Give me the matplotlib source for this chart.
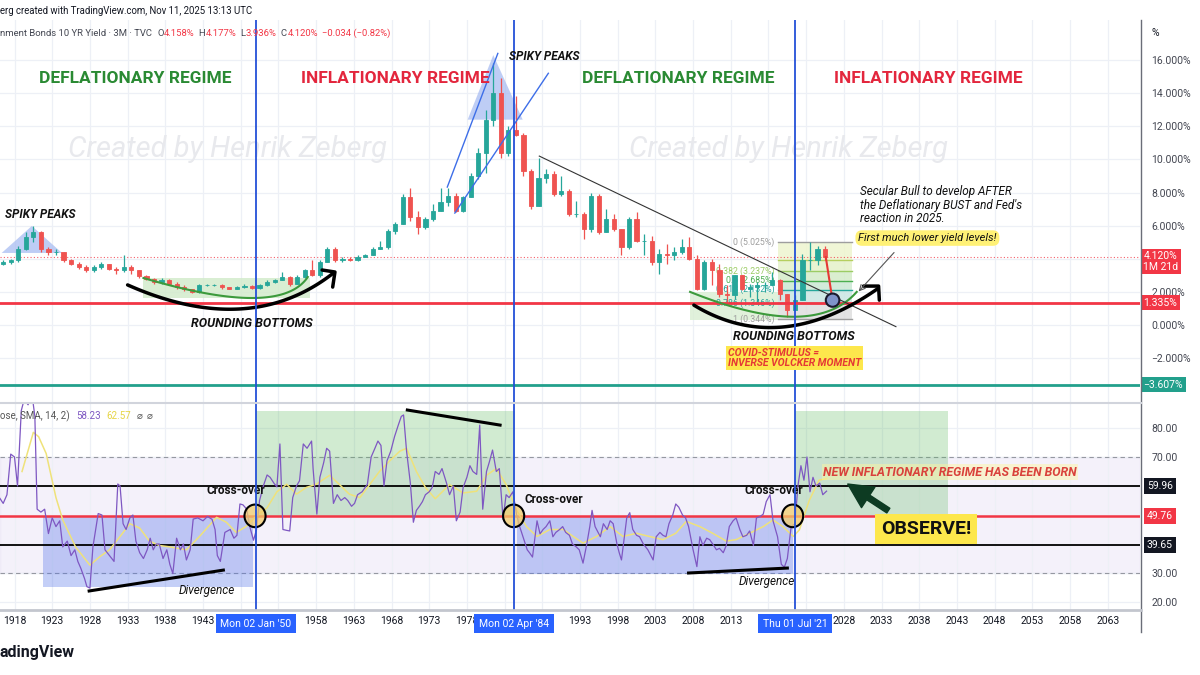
import numpy as np
import matplotlib
matplotlib.use("Agg")
import matplotlib.pyplot as plt
from matplotlib.patches import Rectangle, Polygon, Ellipse
from matplotlib.lines import Line2D
import matplotlib.transforms as mtransforms

plt.rcParams['font.family'] = ['Roboto', 'DejaVu Sans']

# ---------------- DATA ----------------
years = list(range(1916, 2026))
first_open = 3.7
close = [3.8, 3.9, 4.6, 5.3, 5.6, 4.6, 4.4, 4.4, 3.9, 3.7,
         3.5, 3.3, 3.5, 3.7, 3.4, 3.3, 3.5, 3.3, 2.95, 2.8,
         2.6, 2.7, 2.5, 2.3, 2.15, 2.0, 2.4, 2.4, 2.4, 2.3,
         2.2, 2.3, 2.35, 2.25, 2.4, 2.6, 2.7, 2.9, 2.5, 2.9,
         3.3, 3.0, 3.8, 4.6, 3.9, 4.0, 3.9, 4.1, 4.2, 4.6,
         4.7, 5.7, 6.1, 7.7, 6.5, 5.9, 6.4, 6.9, 7.4, 7.8,
         6.9, 7.7, 9.0, 10.4, 12.4, 14.0, 10.4, 11.8, 11.5, 9.3,
         7.2, 8.9, 9.1, 7.9, 8.1, 6.7, 6.7, 5.8, 7.8, 5.6,
         6.4, 5.8, 4.7, 6.4, 5.1, 5.1, 3.8, 4.3, 4.2, 4.4,
         4.7, 4.0, 2.2, 3.8, 3.3, 1.9, 1.8, 3.0, 2.2, 2.3,
         2.4, 2.4, 2.7, 1.9, 0.9, 1.5, 3.9, 3.9, 4.6, 4.12]
high = [3.9, 4.0, 4.8, 5.6, 6.0, 5.7, 4.7, 4.6, 4.4, 4.0,
        3.8, 3.6, 3.6, 3.8, 3.7, 3.5, 4.2, 3.6, 3.35, 3.0,
        2.85, 2.85, 2.75, 2.6, 2.4, 2.2, 2.45, 2.45, 2.45, 2.45,
        2.3, 2.35, 2.45, 2.4, 2.5, 2.7, 2.8, 3.2, 2.95, 3.0,
        3.4, 3.9, 3.9, 4.7, 4.7, 4.1, 4.1, 4.2, 4.3, 4.7,
        5.1, 5.8, 6.2, 7.9, 8.3, 6.9, 6.5, 7.3, 8.3, 8.3,
        8.0, 7.8, 9.2, 10.7, 13.0, 15.8, 14.9, 12.0, 13.8, 11.6,
        9.4, 10.1, 9.4, 9.3, 9.0, 8.2, 7.5, 6.8, 8.0, 7.9,
        7.0, 6.7, 5.8, 6.5, 6.8, 5.5, 5.4, 4.6, 4.9, 4.7,
        5.2, 5.3, 4.2, 3.9, 4.0, 3.7, 2.4, 3.0, 3.0, 2.5,
        2.6, 2.6, 3.2, 2.8, 1.9, 1.8, 4.3, 5.0, 4.8, 4.8]
low = [3.6, 3.7, 3.8, 4.5, 5.0, 4.4, 4.2, 4.2, 3.8, 3.6,
       3.4, 3.2, 3.2, 3.4, 3.3, 3.1, 3.2, 3.1, 2.85, 2.7,
       2.5, 2.5, 2.4, 2.2, 2.05, 1.95, 1.95, 2.35, 2.35, 2.2,
       2.15, 2.15, 2.25, 2.2, 2.2, 2.35, 2.55, 2.7, 2.35, 2.45,
       2.85, 2.95, 2.9, 3.8, 3.8, 3.8, 3.85, 3.85, 4.1, 4.2,
       4.6, 4.6, 5.5, 6.1, 6.3, 5.5, 5.8, 6.3, 6.9, 7.2,
       6.8, 6.8, 7.7, 8.8, 9.2, 12.0, 10.1, 10.2, 11.4, 9.0,
       7.0, 7.2, 8.6, 7.8, 7.8, 6.6, 6.5, 5.2, 5.6, 5.5,
       5.6, 5.7, 4.2, 4.6, 5.0, 4.2, 3.6, 3.1, 3.7, 3.9,
       4.3, 3.9, 2.1, 2.1, 2.4, 1.7, 1.4, 1.6, 2.1, 1.7,
       1.4, 2.0, 2.4, 1.5, 0.5, 0.9, 1.5, 3.3, 3.6, 3.9]

rsi_t = [1916.0, 1916.5, 1917.0, 1917.5, 1918.0, 1918.4, 1918.9, 1919.3, 1919.8, 1920.3,
         1920.7, 1921.0, 1921.5, 1922.0, 1922.5, 1923.0, 1923.5, 1924.0, 1924.4, 1925.0,
         1925.5, 1926.0, 1926.4, 1926.8, 1927.3, 1927.6, 1928.0, 1928.4, 1929.1, 1929.6,
         1930.0, 1930.6, 1931.2, 1931.7, 1932.0, 1932.4, 1932.8, 1933.3, 1933.7, 1934.1,
         1934.6, 1935.1, 1935.6, 1936.0, 1936.4, 1936.8, 1937.2, 1937.7, 1938.2, 1938.6,
         1939.0, 1939.5, 1940.0, 1940.4, 1940.8, 1941.3, 1941.7, 1942.3, 1943.0, 1943.6,
         1944.2, 1944.6, 1944.9, 1945.3, 1945.9, 1946.6, 1947.1, 1947.5, 1947.9, 1948.3,
         1948.8, 1949.2, 1949.7, 1950.1, 1950.5, 1951.0, 1951.5, 1951.9, 1952.4, 1952.8,
         1953.2, 1953.6, 1954.1, 1954.5, 1954.9, 1955.4, 1955.8, 1956.3, 1956.8, 1957.4,
         1957.6, 1958.1, 1958.5, 1959.0, 1959.4, 1959.8, 1960.3, 1960.8, 1961.3, 1961.8,
         1962.2, 1962.7, 1963.1, 1963.5, 1964.1, 1964.8, 1965.3, 1965.8, 1966.2, 1966.6,
         1967.0, 1967.4, 1967.9, 1968.4, 1968.9, 1969.3, 1969.6, 1970.0, 1970.5, 1970.9,
         1971.3, 1971.7, 1972.1, 1972.5, 1973.0, 1973.4, 1973.8, 1974.3, 1974.7, 1975.3,
         1975.7, 1976.2, 1976.6, 1977.1, 1977.5, 1978.0, 1978.4, 1978.8, 1979.3, 1979.7,
         1980.1, 1980.6, 1981.0, 1981.4, 1981.9, 1982.3, 1982.8, 1983.2, 1983.6, 1984.1,
         1984.6, 1985.0, 1985.5, 1986.0, 1986.3, 1986.7, 1987.3, 1987.7, 1988.1, 1988.5,
         1989.0, 1989.4, 1989.8, 1990.3, 1990.7, 1991.1, 1991.6, 1992.0, 1992.5, 1992.9,
         1993.4, 1993.9, 1994.3, 1994.6, 1995.0, 1995.4, 1995.7, 1996.1, 1996.6, 1997.0,
         1997.4, 1997.9, 1998.2, 1998.5, 1999.2, 1999.6, 2000.0, 2000.5, 2000.9, 2001.4,
         2002.0, 2002.7, 2003.1, 2003.6, 2004.0, 2004.4, 2004.8, 2005.3, 2005.7, 2006.1,
         2006.6, 2007.0, 2007.4, 2008.0, 2008.5, 2008.9, 2009.3, 2009.8, 2010.2, 2010.6,
         2011.1, 2011.5, 2012.0, 2012.4, 2012.8, 2013.3, 2013.7, 2014.2, 2014.6, 2015.1,
         2015.5, 2016.0, 2016.4, 2016.9, 2017.3, 2017.7, 2018.2, 2018.6, 2019.2, 2019.7,
         2020.1, 2020.5, 2021.0, 2021.5, 2021.9, 2022.3, 2022.7, 2023.1, 2023.5, 2023.9,
         2024.3, 2024.8, 2025.2, 2025.7]
rsi_v = [56, 54, 57, 71, 70, 60, 86, 90, 88, 92,
         84, 52, 51, 52, 43.6, 49, 46, 48, 39, 41,
         36, 38, 34, 31.6, 28, 25.3, 24.8, 39, 50.5, 50,
         38, 36, 34, 60.7, 60, 47, 45, 49, 50, 41,
         37, 35, 38, 42, 38, 40, 40, 35, 38, 33,
         29.8, 42, 38, 40, 34.5, 38, 48.6, 49, 48, 49.5,
         48.5, 45, 36, 34, 44, 45, 42, 43, 53.8, 53.5,
         52, 46, 41.3, 45, 55, 60, 63.8, 63, 61, 59.7,
         74.5, 45, 44.7, 44.5, 56, 60, 61.8, 74.5, 73, 75.5,
         66, 50.3, 63, 68, 73, 72, 54, 57, 55, 56,
         55, 53, 54, 57, 58, 60.6, 70, 73, 75.5, 74,
         60, 68.7, 72, 77, 81, 84, 84.5, 72, 61, 47.5,
         51.6, 53, 54.6, 57, 58, 59.5, 65, 64, 66, 61,
         57, 60, 48, 51, 59.5, 63, 67, 65, 64, 81,
         52, 65, 68.5, 72.4, 65, 66, 48.5, 57, 56, 58,
         50, 46, 42, 38, 37, 35.5, 48, 43.5, 45, 46,
         48, 42.5, 44, 45, 46, 44, 43, 40, 39, 38,
         33.4, 40, 46, 51.6, 46, 44, 42.5, 47, 45, 48,
         47, 40, 37, 34.5, 49, 50.8, 45, 43, 42.5, 40,
         38, 34.5, 42.5, 44, 43, 42.5, 47, 50, 53.8, 52.7,
         50, 49, 46, 38, 32.2, 42.5, 39.5, 42, 41.5, 40,
         38, 38.5, 37, 39.5, 46, 48, 49, 45, 42.5, 43,
         44.5, 39.5, 49, 49.5, 50.3, 54.6, 57, 48, 42.5, 33,
         32, 35, 46, 47, 60, 67, 62, 70, 58, 63,
         60, 61, 57, 58.23]

sma_t = [1919.0, 1920.5, 1921.2, 1922.2, 1923.5, 1924.4, 1926.1, 1928.0, 1929.3, 1930.6,
         1932.0, 1933.3, 1934.6, 1935.9, 1937.2, 1938.6, 1940.8, 1942.5, 1944.8, 1946.1,
         1947.4, 1948.7, 1950.1, 1951.5, 1952.8, 1954.1, 1955.4, 1956.7, 1958.0, 1959.8,
         1961.1, 1962.4, 1963.8, 1965.1, 1966.4, 1967.7, 1969.1, 1970.0, 1971.3, 1972.5,
         1973.8, 1975.7, 1977.5, 1979.3, 1980.6, 1981.9, 1983.2, 1984.6, 1985.9, 1987.3,
         1989.0, 1990.8, 1992.1, 1993.4, 1995.2, 1997.0, 1998.7, 2000.5, 2002.2, 2004.0,
         2005.7, 2007.1, 2008.9, 2010.6, 2012.4, 2013.7, 2015.5, 2017.3, 2018.6, 2019.9,
         2021.3, 2022.1, 2023.4, 2024.7, 2025.7]
sma_v = [65, 78.5, 77, 71.2, 56, 48.3, 39, 32.7, 35.6, 38,
         42.6, 47, 45.5, 41, 39.5, 39, 38, 42.5, 49.2, 47.5,
         44, 46, 49.7, 52.5, 58, 60.6, 57.2, 59.5, 60.6, 63.7,
         60.5, 57.2, 56, 60.5, 65, 68.5, 72, 73, 65, 59.5,
         55.6, 60.5, 57.6, 58.2, 63.7, 66, 60.5, 51.6, 46, 42.6,
         45, 45, 42.6, 40.3, 42.6, 46, 42.6, 43.7, 42.6, 41.5,
         43.7, 47.8, 46, 43.7, 41, 41.5, 43.7, 46, 48.3, 46,
         42.6, 44.9, 55, 62, 62.57]

tick_years = list(range(1918, 2064, 5))
hidden_tick_years = [1948, 1953, 1983, 1988, 2018, 2023]
price_ticks = [-2, 0, 2, 4, 6, 8, 10, 12, 14, 16]
hidden_price_ticks = [4]
rsi_ticks = [20, 30, 40, 50, 60, 70, 80]
rsi_tick_labels = ["20.00", "30.00", "", "", "", "70.00", "80.00"]
regime_lines = [1950.0, 1984.25, 2021.5]
regime_dates = ["Mon 02 Jan '50", "Mon 02 Apr '84", "Thu 01 Jul '21"]
support_level = 1.335
low_level = -3.607
last_level = 4.120
fib_ratios = [0, 0.236, 0.382, 0.5, 0.618, 0.786, 1]
fib_hi, fib_lo = 5.025, 0.344
rsi_upper, rsi_mid, rsi_lower = 59.96, 49.76, 39.65

# ---------------- FIGURE ----------------
W, H = 1200, 675
fig = plt.figure(figsize=(12, 6.75), dpi=100)
fig.patch.set_facecolor('white')
renderer = fig.canvas.get_renderer()


def fx(p):
    return p / W


def fy(p):
    return 1 - p / H


X0 = 1918 - 14.5 / 7.54
X1 = X0 + 1140 / 7.54

ax1 = fig.add_axes([0, fy(402), fx(1140), (402 - 20) / H])
ax2 = fig.add_axes([0, fy(610), fx(1140), (610 - 404) / H])

for ax in (ax1, ax2):
    ax.set_xlim(X0, X1)
    ax.set_facecolor('white')
    for s in ax.spines.values():
        s.set_visible(False)
    ax.set_xticks(tick_years)
    ax.grid(True, color='#edf0f6', lw=0.9)
    ax.set_axisbelow(True)
    ax.yaxis.tick_right()
    ax.tick_params(axis='y', length=0, pad=8, labelsize=7.5, labelcolor='#434651')

ax1.set_ylim(-77 / 16.56, 305 / 16.56)
ax2.set_ylim(20 - 8 / 2.9, 80 + 24 / 2.9)

ax1.tick_params(axis='x', length=0, labelbottom=False)
ax1.set_yticks(price_ticks)
ax1.set_yticklabels(["" if v in hidden_price_ticks else f"{v:.3f}%".replace('-', '\u2212')
                     for v in price_ticks])

ax2.set_yticks(rsi_ticks)
ax2.set_yticklabels(rsi_tick_labels)
ax2.set_xticklabels(["" if y in hidden_tick_years else str(y) for y in tick_years])
ax2.tick_params(axis='x', length=0, pad=4, labelsize=7.5, labelcolor='#131722')

# ---------------- PRICE PANE ----------------
opens = [first_open] + close[:-1]
xc = np.array(years) + 0.5
o = np.array(opens)
c = np.array(close)
up = c >= o
cols = np.where(up, '#26a69a', '#ef5350')
ax1.vlines(xc, low, high, colors=cols, lw=0.9, zorder=4)
ax1.bar(xc, np.abs(c - o), bottom=np.minimum(o, c), width=0.55, color=cols,
        edgecolor=cols, lw=0.6, zorder=5)

# watermarks
for xw in (1946.3, 2020.6):
    ax1.text(xw, 10.6, "Created by Henrik Zeberg", fontsize=21, style='italic',
             color='#e8e9ed', ha='center', va='center', zorder=1)

# regime titles
for xt, t, colr in ((1934.0, "DEFLATIONARY REGIME", '#2a8a33'),
                    (1968.5, "INFLATIONARY REGIME", '#e3263d'),
                    (2006.0, "DEFLATIONARY REGIME", '#2a8a33'),
                    (2039.2, "INFLATIONARY REGIME", '#e3263d')):
    ax1.text(xt, 14.9, t, color=colr, fontsize=12.5, fontweight='bold',
             ha='center', va='center', zorder=8)

# levels
ax1.axhline(last_level, color='#f23645', ls=(0, (1, 2)), lw=0.8, alpha=0.8, zorder=3)
ax1.axhline(support_level, color='#f23645', lw=2, zorder=6)
ax1.axhline(low_level, color='#22a08c', lw=2, zorder=6)

# spiky peak triangles
ax1.add_patch(Polygon([(1916.3, 4.35), (1920.3, 5.98), (1924.3, 4.35)], closed=True,
                      fc='#a9bdf2', ec='none', alpha=0.75, zorder=2))
ax1.add_patch(Polygon([(1978.1, 12.4), (1981.5, 16.3), (1985.4, 12.4)], closed=True,
                      fc='#a9bdf2', ec='none', alpha=0.75, zorder=2))
ax1.plot([1975.4, 1982.1], [8.33, 16.4], color='#3d6ee8', lw=1, zorder=7)
ax1.plot([1976.4, 1988.8], [6.76, 15.2], color='#3d6ee8', lw=1, zorder=7)
ax1.text(1983.6, 16.2, "SPIKY PEAKS", fontsize=8.5, fontweight='bold', style='italic',
         ha='left', va='center', color='#111', zorder=9)
ax1.text(1916.7, 6.7, "SPIKY PEAKS", fontsize=8.5, fontweight='bold', style='italic',
         ha='left', va='center', color='#111', zorder=9)


def qarc(p0, pm, p2, n=80):
    p0, pm, p2 = map(np.asarray, (p0, pm, p2))
    cc = 2 * pm - (p0 + p2) / 2
    t = np.linspace(0, 1, n)[:, None]
    pts = (1 - t) ** 2 * p0 + 2 * (1 - t) * t * cc + t ** 2 * p2
    return pts[:, 0], pts[:, 1]


# early rounding bottom
ax1.add_patch(Rectangle((1935.1, 1.63), 22.1, 1.21, fc='#d3ebcc', ec='none', alpha=0.85, zorder=2))
gx, gy = qarc((1935.1, 2.84), (1949.6, 1.63), (1956.9, 2.9))
ax1.plot(gx, gy, color='#3c9a3c', lw=1.5, zorder=6)
bx, by = qarc((1933.0, 2.42), (1947.9, 0.97), (1960.3, 3.14))
ax1.plot(bx, by, color='black', lw=2.5, zorder=7, solid_capstyle='round')
ax1.plot([1958.8, 1960.5, 1960.2], [3.32, 3.2, 2.29], color='black', lw=2.5, zorder=7,
         solid_capstyle='round')
ax1.text(1949.5, 0.12, "ROUNDING BOTTOMS", fontsize=9, fontweight='bold', style='italic',
         ha='center', va='center', color='#111', zorder=9)

# trend line
ax1.plot([1987.6, 2034.9], [10.2, -0.1], color='#333', lw=0.8, zorder=7)

# recent rounding bottom shading + fib box
ax1.add_patch(Rectangle((2007.6, 0.3), 11.6, 1.7, fc='#d9eed3', ec='none', alpha=0.8, zorder=2))
fib_colors = ['#9e9e9e', '#b5cf5f', '#9ccc65', '#4caf50', '#26a69a', '#2aa198', '#9e9e9e']
band_colors = ['#eef5cf', '#e4f1c9', '#d4ecc8', '#cbe8d4', '#c9e6e2', '#dedede']
fb0, fb1 = 2019.2, 2029.1
fib_vals = [fib_hi - r * (fib_hi - fib_lo) for r in fib_ratios]
for i in range(len(fib_vals) - 1):
    ax1.add_patch(Rectangle((fb0, fib_vals[i + 1]), fb1 - fb0, fib_vals[i] - fib_vals[i + 1],
                            fc=band_colors[i], ec='none', alpha=0.85, zorder=2))
for r, v, col in zip(fib_ratios, fib_vals, fib_colors):
    ax1.plot([fb0, fb1], [v, v], color=col, lw=1, zorder=3)
    if r != 0.236:
        ax1.text(fb0 - 0.4, v, f"{r:g} ({v:.3f}%)", fontsize=6.3, color=col, ha='right',
                 va='center', zorder=3)

gx, gy = qarc((2007.6, 2.0), (2021.3, 0.5), (2029.7, 2.0))
ax1.plot(gx, gy, color='#3c9a3c', lw=1.5, zorder=6)
bx, by = qarc((2008.1, 1.2), (2019.9, -0.12), (2032.5, 2.2))
ax1.plot(bx, by, color='black', lw=2.5, zorder=7, solid_capstyle='round')
ax1.plot([2030.6, 2032.6, 2032.7], [2.35, 2.35, 1.5], color='black', lw=2.5, zorder=7,
         solid_capstyle='round')
ax1.text(2021.3, -0.7, "ROUNDING BOTTOMS", fontsize=9, fontweight='bold', style='italic',
         ha='center', va='center', color='#111', zorder=9)

# projection + ellipse + arrow
ax1.plot([2025.6, 2026.4], [4.1, 1.75], color='#e53935', lw=1.5, zorder=8)
ax1.add_patch(Ellipse((2026.5, 1.5), 1.8, 0.8, fc='#7f93c9', ec='#1a1a2e', lw=1.5, zorder=9))
ax1.annotate('', xy=(2029.7, 1.9), xytext=(2034.9, 4.5),
             arrowprops=dict(arrowstyle='->', color='#555', lw=0.8), zorder=9)

ax1.text(2030.1, 8.45, "Secular Bull to develop AFTER\nthe Deflationary BUST and Fed's\nreaction in 2025.",
         fontsize=8.5, style='italic', color='#111', ha='left', va='top', linespacing=1.05, zorder=9)
ax1.text(2029.9, 5.25, "First much lower yield levels!", fontsize=8, style='italic', color='#111',
         ha='left', va='center', zorder=9,
         bbox=dict(boxstyle='round,pad=0.25,rounding_size=0.6', fc='#fff176', ec='none'))
ax1.text(2012.6, -2.0, "COVID-STIMULUS =\nINVERSE VOLCKER MOMENT", fontsize=7.5, fontweight='bold',
         style='italic', color='#e53935', ha='left', va='center', linespacing=1.0, zorder=9,
         bbox=dict(boxstyle='square,pad=0.2', fc='#fde74c', ec='none'))

# ---------------- RSI PANE ----------------
ax2.axhspan(30, 70, color='#7e57c2', alpha=0.08, zorder=0)
ax2.axhline(70, color='#9598a1', ls=(0, (4, 3)), lw=0.8, zorder=1)
ax2.axhline(30, color='#9598a1', ls=(0, (4, 3)), lw=0.8, zorder=1)

ax2.add_patch(Rectangle((1921.8, 25.2), 1949.6 - 1921.8, rsi_mid - 25.2, fc='#4d6ee8',
                        ec='none', alpha=0.33, zorder=1))
ax2.add_patch(Rectangle((1950.0, rsi_mid), 1984.4 - 1950.0, 86 - rsi_mid, fc='#5cb85c',
                        ec='none', alpha=0.28, zorder=1))
ax2.add_patch(Rectangle((1984.6, 29.7), 2021.3 - 1984.6, rsi_mid - 29.7, fc='#4d6ee8',
                        ec='none', alpha=0.33, zorder=1))
ax2.add_patch(Rectangle((2021.5, rsi_mid), 2041.8 - 2021.5, 86 - rsi_mid, fc='#5cb85c',
                        ec='none', alpha=0.28, zorder=1))

ax2.axhline(rsi_upper, color='black', lw=1.3, zorder=3)
ax2.axhline(rsi_lower, color='black', lw=1.3, zorder=3)
ax2.axhline(rsi_mid, color='#f23645', lw=1.8, zorder=3)

ax2.plot(sma_t, sma_v, color='#efe27a', lw=1.1, zorder=4)
ax2.plot(rsi_t, rsi_v, color='#7e57c2', lw=0.9, zorder=5)

for ex in (1949.9, 1984.2, 2021.2):
    ax2.add_patch(Ellipse((ex, 49.7), 2.8, 7.8, fc=(0.95, 0.8, 0.42, 0.75), ec='black',
                          lw=1.5, zorder=7))
for xt, yt in ((1947.4, 58.3), (1989.5, 55.2), (2018.7, 58.6)):
    ax2.text(xt, yt, "Cross-over", fontsize=8.5, fontweight='bold', ha='center', va='center',
             color='#111', zorder=8)

ax2.plot([1927.9, 1945.7], [23.8, 31.0], color='black', lw=2.2, zorder=6)
ax2.plot([1970.1, 1982.4], [86.2, 81.0], color='black', lw=2.2, zorder=6)
ax2.plot([2007.4, 2020.5], [30.0, 31.7], color='black', lw=2.2, zorder=6)
ax2.text(1943.5, 23.8, "Divergence", fontsize=8.5, style='italic', ha='center', va='center',
         color='#111', zorder=8)
ax2.text(2017.8, 27.2, "Divergence", fontsize=8.5, style='italic', ha='center', va='center',
         color='#111', zorder=8)

ax2.text(2025.2, 64.8, "NEW INFLATIONARY REGIME HAS BEEN BORN", fontsize=8.9, fontweight='bold',
         style='italic', color='#d9413b', ha='left', va='center', zorder=8,
         bbox=dict(boxstyle='square,pad=0.1', fc='#fff59d', ec='none', alpha=0.45))
ax2.text(2038.9, 45.2, "OBSERVE!", fontsize=14, fontweight='bold', color='#111', ha='center',
         va='center', zorder=8, bbox=dict(boxstyle='square,pad=0.3', fc='#fde74c', ec='none'))
ax2.annotate('', xy=(2028.2, 61.2), xytext=(2034.2, 51.0),
             arrowprops=dict(arrowstyle='simple,head_length=1.1,head_width=1.1,tail_width=0.25',
                             color='#0d3b22', mutation_scale=16), zorder=8)

# vertical regime lines
for xv in regime_lines:
    ax1.axvline(xv, color='#2450d8', lw=1.3, zorder=8)
    ax2.axvline(xv, color='#2450d8', lw=1.3, zorder=8)

# ---------------- right-axis highlight labels ----------------
tr1 = mtransforms.blended_transform_factory(ax1.transAxes, ax1.transData)
tr2 = mtransforms.blended_transform_factory(ax2.transAxes, ax2.transData)
ax1.text(1.003, last_level + 0.33, f"{last_level:.3f}%\n1M 21d", transform=tr1, fontsize=7.5,
         color='white', ha='left', va='top', linespacing=1.05,
         bbox=dict(boxstyle='square,pad=0.25', fc='#f23645', ec='none'))
ax1.text(1.003, support_level, f"{support_level:.3f}%", transform=tr1, fontsize=7.5, color='white',
         ha='left', va='center', bbox=dict(boxstyle='square,pad=0.25', fc='#f23645', ec='none'))
ax1.text(1.003, low_level, f"{low_level:.3f}%".replace('-', '\u2212'), transform=tr1, fontsize=7.5,
         color='white', ha='left', va='center',
         bbox=dict(boxstyle='square,pad=0.25', fc='#22a08c', ec='none'))
for v, colr in ((rsi_upper, '#131722'), (rsi_mid, '#f23645'), (rsi_lower, '#131722')):
    ax2.text(1.006, v, f"{v:.2f}", transform=tr2, fontsize=7.5, color='white', ha='left',
             va='center', bbox=dict(boxstyle='square,pad=0.3', fc=colr, ec='none'))

# ---------------- frame lines ----------------
fig.add_artist(Line2D([fx(1141), fx(1141)], [fy(20), fy(632)], color='#6a6d78', lw=1))
fig.add_artist(Line2D([0, fx(1141)], [fy(403), fy(403)], color='#d1d4dc', lw=1.5))
fig.add_artist(Line2D([0, fx(1141)], [fy(610), fy(610)], color='#c3c6ce', lw=2))

# date boxes on time axis
trx = mtransforms.blended_transform_factory(ax2.transData, ax2.transAxes)
for xv, lab in zip(regime_lines, regime_dates):
    ax2.text(xv, -0.066, lab, transform=trx, fontsize=7.5, color='white', ha='center',
             va='center', zorder=20, clip_on=False,
             bbox=dict(boxstyle='square,pad=0.45', fc='#2962ff', ec='none'))


# ---------------- header / legend texts ----------------
def chain(items, ypix, size, x0=0):
    x = x0
    for t, colr, gap in items:
        txt = fig.text(fx(x), fy(ypix), t, fontsize=size, color=colr, ha='left',
                       va='center', zorder=20)
        bb = txt.get_window_extent(renderer)
        x = bb.x1 + gap


fig.text(0, fy(11), "erg created with TradingView.com, Nov 11, 2025 13:13 UTC", fontsize=6.9,
         color='#131722', ha='left', va='center')
dark, red = '#434651', '#f23645'
chain([("nment Bonds 10 YR Yield \u00b7 3M \u00b7 TVC", dark, 5), ("O", dark, 0.5),
       ("4.158%", red, 4), ("H", dark, 0.5), ("4.177%", red, 4), ("L", dark, 0.5),
       ("3.936%", red, 4), ("C", dark, 0.5), ("4.120%", red, 4),
       ("\u22120.034 (\u22120.82%)", red, 0)], 33, 6.8)
fig.text(fx(1152), fy(33), "%", fontsize=7.5, color='#131722', ha='left', va='center')

chain([("ose, SMA, 14, 2)", '#555', 6), ("58.23", '#7e57c2', 6), ("62.57", '#e6d545', 6),
       ("\u2300", '#555', 4), ("\u2300", '#555', 0)], 416, 7.0)

fig.text(0, fy(652), "adingView", fontsize=11.5, fontweight='bold', color='#131722',
         ha='left', va='center')

fig.savefig("out.png", dpi=100)
